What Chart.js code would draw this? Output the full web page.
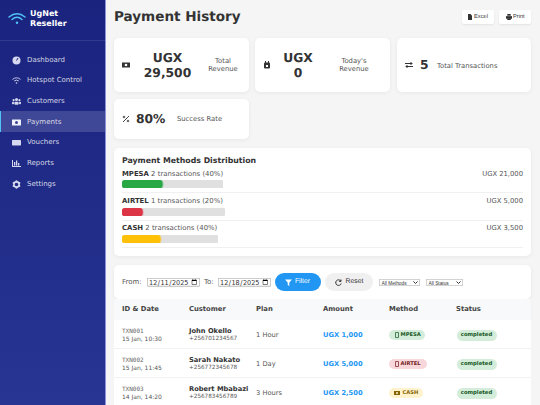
<!DOCTYPE html>
<html>
<head>
<meta charset="utf-8">
<title>Payment History</title>
<script src="https://cdn.jsdelivr.net/npm/chart.js@4"></script>
<style>
* { box-sizing: border-box; margin: 0; padding: 0; }
html { background: #f5f5f5; }
html, body { width: 540px; height: 405px; overflow: hidden; }
body { position: relative; background: #f5f5f5; font-family: "DejaVu Sans", sans-serif; color: #333; text-rendering: geometricPrecision; filter: blur(.3px); }
.abs { position: absolute; white-space: nowrap; }
#sidebar { left: 0; top: 0; width: 105px; height: 405px; background: linear-gradient(180deg, #1a237e, #283593); color: #fff; }
#edge { left: 105px; top: 0; width: 1px; height: 405px; background: #8c94d8; }
.brand { left: 30px; font-size: 8px; font-weight: 700; color: #fff; line-height: 9px; }
#brandline { left: 0; top: 40px; width: 105px; height: 1px; background: rgba(255,255,255,.1); }
.nav { left: 27px; font-size: 7px; color: rgba(255,255,255,.8); line-height: 9px; }
.navicon { left: 12px; }
#active { left: 0; top: 111px; width: 105px; height: 21px; background: rgba(255,255,255,.15); border-left: 1.5px solid #4fc3f7; }
h1 { left: 114px; top: 7px; font-size: 13.55px; font-weight: 700; line-height: 20px; }
.topbtn { top: 10px; height: 13.5px; background: #fff; border-radius: 2px; box-shadow: 0 1px 2px rgba(0,0,0,.08); font: 5.7px/15.5px "Liberation Sans", sans-serif; color: #333; }
.card { background: #fff; border-radius: 5px; box-shadow: 0 1px 4px rgba(0,0,0,.06); }
.big { font-size: 12.3px; font-weight: 700; line-height: 15px; text-align: center; color: #333; }
.lab { font-size: 6.8px; line-height: 8.2px; text-align: center; color: #555; }
.icon { width: 8px; height: 8px; }
#dist-title { left: 122px; top: 155.2px; font-size: 7.8px; font-weight: 700; line-height: 11px; }
.mname { left: 122px; font-size: 6.9px; line-height: 9px; color: #555; }
.mname b { color: #333; }
.mamt { right: 17px; font-size: 6.8px; line-height: 9px; color: #555; }
.rule { left: 122px; width: 401px; height: 1px; background: #f0f0f0; }
canvas { display: block; }
.bar { left: 122px; }
.flabel { font-size: 7px; line-height: 9px; color: #555; top: 277.5px; }
/* native controls are laid out at 2x and scaled down, they clip at this size otherwise */
input[type=date] { font: 13px "DejaVu Sans", sans-serif; width: 106px; height: 17px; top: 278px; border: 1.5px solid #777; padding: 0 2px; border-radius: 2px; background: #fff; color: #333; transform: scale(.5); transform-origin: 0 0; }
select { top: 279px; height: 14px; font: 9.6px "Liberation Sans", sans-serif; border: 1.5px solid #888; border-radius: 2px; background: #fff; color: #333; transform: scale(.5); transform-origin: 0 0; }
.pill { top: 273px; height: 18px; border-radius: 9px; font: 6.8px/18px "Liberation Sans", sans-serif; text-align: center; }
#thead { left: 114px; top: 299px; width: 417px; height: 21px; background: #f8f9fa; box-shadow: 0 1px 1px rgba(0,0,0,.05); }
#tbody { left: 114px; top: 320px; width: 417px; height: 85px; background: #fff; }
.th { top: 305.2px; font-size: 6.8px; font-weight: 700; line-height: 9px; color: #444; }
.rowline { left: 114px; width: 417px; height: 1px; background: #f2f2f2; }
.txn { left: 122px; font: 6px/7px "DejaVu Sans Mono", monospace; color: #666; }
.dt { left: 122px; font-size: 6px; line-height: 7px; color: #555; }
.cname { left: 189px; font-size: 6.7px; font-weight: 700; line-height: 9px; color: #333; }
.phone { left: 189px; font-size: 5.7px; line-height: 7px; color: #555; }
.plan { left: 256px; font-size: 6.7px; line-height: 9px; color: #555; }
.amt { left: 323px; font-size: 6.7px; font-weight: 700; line-height: 9px; color: #2196f3; }
.badge { left: 389px; height: 10.7px; border-radius: 6px; font-size: 5.2px; font-weight: 700; line-height: 10.7px; }
.status { left: 456.5px; width: 40px; height: 11px; border-radius: 6px; background: #d4edda; color: #155724; font-size: 5.3px; font-weight: 700; line-height: 11px; text-align: center; }
</style>
</head>
<body>
<div class="abs" id="sidebar"></div>
<div class="abs" id="edge"></div>
<svg class="abs" style="left:8px;top:12px" width="18" height="13" viewBox="0 0 18 13" fill="none" stroke="#4fc3f7" stroke-width="1.5" stroke-linecap="round">
  <path d="M1 5 Q9 -1.5 17 5"/><path d="M4 7.5 Q9 3 14 7.5"/><circle cx="9" cy="10.8" r="1.2" fill="#4fc3f7" stroke="none"/>
</svg>
<div class="abs brand" style="top:9.2px">UgNet</div>
<div class="abs brand" style="top:18.8px">Reseller</div>
<div class="abs" id="brandline"></div>
<div class="abs" id="active"></div>
<div id="nav"></div>

<h1 class="abs">Payment History</h1>
<div class="abs topbtn" style="left:461.5px;width:32.5px;padding-left:12.5px">Excel</div>
<div class="abs topbtn" style="left:499px;width:32px;padding-left:14px">Print</div>
<svg class="abs" style="left:468px;top:13.5px" width="4" height="6" viewBox="0 0 4 6"><path d="M0 0H2.5L4 1.5V6H0Z" fill="#333"/></svg>
<svg class="abs" style="left:505.5px;top:13.5px" width="6" height="6" viewBox="0 0 7 7" fill="#333"><rect x="1.5" y="0" width="4" height="2"/><rect x="0" y="2.5" width="7" height="3"/><rect x="1.5" y="5" width="4" height="2"/></svg>

<div class="abs card" style="left:114px;top:38px;width:135px;height:54px"></div>
<div class="abs card" style="left:255px;top:38px;width:135px;height:54px"></div>
<div class="abs card" style="left:397px;top:38px;width:134px;height:54px"></div>
<div class="abs card" style="left:114px;top:99px;width:135px;height:40px"></div>
<div id="stats"></div>
<svg class="abs icon" style="left:122px;top:61px" viewBox="0 0 8 8"><rect x="0" y="1.5" width="8" height="5" fill="#333"/><circle cx="4" cy="4" r="1.3" fill="#fff"/></svg>
<svg class="abs icon" style="left:263px;top:61px" viewBox="0 0 8 8"><rect x="1" y="1.5" width="6" height="6" rx="1" fill="#333"/><rect x="2" y="0" width="1" height="2" fill="#333"/><rect x="5" y="0" width="1" height="2" fill="#333"/><rect x="3" y="4" width="2" height="2" fill="#fff"/></svg>
<svg class="abs icon" style="left:405px;top:61px" viewBox="0 0 8 8" fill="none" stroke="#333" stroke-width="1"><path d="M0 2.5H7M5.5 1L7 2.5L5.5 4M8 5.5H1M2.5 4L1 5.5L2.5 7"/></svg>
<svg class="abs icon" style="left:122px;top:115px" viewBox="0 0 8 8" fill="none" stroke="#333" stroke-width=".9"><path d="M1 7L7 1"/><circle cx="2" cy="2" r=".8"/><circle cx="6" cy="6" r=".8"/></svg>

<div class="abs card" style="left:114px;top:148px;width:417px;height:108px"></div>
<div class="abs" id="dist-title">Payment Methods Distribution</div>
<div id="methods"></div>

<div class="abs card" style="left:114px;top:265px;width:417px;height:34px"></div>
<div class="abs flabel" style="left:122px">From:</div>
<input class="abs" type="date" value="2025-12-11" style="left:147px">
<div class="abs flabel" style="left:204px">To:</div>
<input class="abs" type="date" value="2025-12-18" style="left:218px">
<div class="abs pill" style="left:275px;width:46px;background:#2196f3;color:#fff;padding-left:9px">Filter</div>
<svg class="abs" style="left:285px;top:278.5px" width="7" height="7" viewBox="0 0 7 7"><path d="M0 .5H7L4.3 3.6V7L2.7 6V3.6Z" fill="#fff"/></svg>
<div class="abs pill" style="left:325px;width:48px;background:#f0f0f0;color:#333;padding-left:11px">Reset</div>
<svg class="abs" style="left:335px;top:278.5px" width="7" height="7" viewBox="0 0 7 7" fill="none" stroke="#333" stroke-width="1"><path d="M5.8 2A2.8 2.8 0 1 0 6.2 4.5"/><path d="M6 .5V2.4H4.1"/></svg>
<select class="abs" style="left:379px;width:82px"><option>All Methods</option></select>
<select class="abs" style="left:426px;width:74px"><option>All Status</option></select>

<div class="abs" id="thead"></div>
<div class="abs" id="tbody"></div>
<div id="table"></div>

<script>
// Chart data
const methodNames = ['MPESA', 'AIRTEL', 'CASH'];
const methodCounts = [2, 1, 2];
const methodShares = [40, 20, 40];
const methodTotals = ['UGX 21,000', 'UGX 5,000', 'UGX 3,500'];
const methodColors = ['#28a745', '#dc3545', '#ffc107'];

// Page text
const navLabels = ['Dashboard', 'Hotspot Control', 'Customers', 'Payments', 'Vouchers', 'Reports', 'Settings'];
const tableHeaders = ['ID & Date', 'Customer', 'Plan', 'Amount', 'Method', 'Status'];
const txnIds = ['TXN001', 'TXN002', 'TXN003'];
const txnDates = ['15 Jan, 10:30', '15 Jan, 11:45', '14 Jan, 14:20'];
const txnNames = ['John Okello', 'Sarah Nakato', 'Robert Mbabazi'];
const txnPhones = ['+256701234567', '+256772345678', '+256783456789'];
const txnPlans = ['1 Hour', '1 Day', '3 Hours'];
const txnAmounts = ['UGX 1,000', 'UGX 5,000', 'UGX 2,500'];
const txnMethods = ['MPESA', 'AIRTEL', 'CASH'];

function addDiv(parent, className, text, style) {
    const el = document.createElement('div');
    el.className = 'abs ' + className;
    el.textContent = text;
    el.style.cssText = style;
    parent.appendChild(el);
    return el;
}

function addSvg(parent, className, style, w, h, body) {
    const holder = addDiv(parent, className, '', style);
    holder.innerHTML = `<svg width="${w}" height="${h}" viewBox="0 0 ${w} ${h}" style="display:block">${body}</svg>`;
}

// Sidebar
const navIcons = [
    '<circle cx="4.5" cy="4.5" r="4" fill="#d5d8ef"/><path d="M4.5 4.5L6 2" stroke="#1a237e" stroke-width="1"/>',
    '<g fill="none" stroke="#d5d8ef" stroke-width=".9"><path d="M.5 3.4Q4.5 .2 8.5 3.4"/><path d="M2.2 5Q4.5 3.2 6.8 5"/></g><circle cx="4.5" cy="7" r=".8" fill="#d5d8ef"/>',
    '<g fill="#d5d8ef"><circle cx="4.5" cy="2.6" r="1.5"/><circle cx="1.6" cy="3.2" r="1.1"/><circle cx="7.4" cy="3.2" r="1.1"/><rect x="2.4" y="4.8" width="4.2" height="3" rx="1"/><rect x="0" y="4.8" width="2" height="2.4" rx=".7"/><rect x="7" y="4.8" width="2" height="2.4" rx=".7"/></g>',
    '<rect x="0" y="1.5" width="9" height="6" rx=".5" fill="#f0f1fa"/><circle cx="4.5" cy="4.5" r="1.5" fill="#3a4494"/>',
    '<rect x="0" y="2" width="9" height="5.5" rx=".7" fill="#d5d8ef"/>',
    '<g fill="#d5d8ef"><rect x="0" y="7" width="9" height="1"/><rect x="0" y="1" width="1" height="7"/><rect x="2" y="3" width="1.3" height="3.6"/><rect x="4" y="1.5" width="1.3" height="5.1"/><rect x="6" y="4" width="1.3" height="2.6"/></g>',
    '<circle cx="4.5" cy="4.5" r="2.6" fill="none" stroke="#d5d8ef" stroke-width="1.6"/><circle cx="4.5" cy="1.2" r="1" fill="#d5d8ef"/><circle cx="4.5" cy="7.8" r="1" fill="#d5d8ef"/><circle cx="1.6" cy="2.9" r="1" fill="#d5d8ef"/><circle cx="7.4" cy="2.9" r="1" fill="#d5d8ef"/><circle cx="1.6" cy="6.1" r="1" fill="#d5d8ef"/><circle cx="7.4" cy="6.1" r="1" fill="#d5d8ef"/>'
];
const nav = document.getElementById('nav');
navLabels.forEach((label, i) => {
    const top = 55.5 + i * 20.67;
    addDiv(nav, 'nav', label, `top:${top}px`);
    addSvg(nav, 'navicon', `top:${top}px`, 9, 9, navIcons[i]);
});

// Stat cards
const stats = document.getElementById('stats');
addDiv(stats, 'big', 'UGX', 'left:142.5px;top:51px;width:50px');
addDiv(stats, 'big', '29,500', 'left:142.5px;top:65.5px;width:50px');
addDiv(stats, 'lab', 'Total', 'left:208px;top:57px;width:30px');
addDiv(stats, 'lab', 'Revenue', 'left:208px;top:65px;width:30px');
addDiv(stats, 'big', 'UGX', 'left:278px;top:51px;width:40px');
addDiv(stats, 'big', '0', 'left:278px;top:65.5px;width:40px');
addDiv(stats, 'lab', "Today's", 'left:339px;top:57px;width:30px');
addDiv(stats, 'lab', 'Revenue', 'left:339px;top:65px;width:30px');
addDiv(stats, 'big', '5', 'left:420px;top:58px');
addDiv(stats, 'lab', 'Total Transactions', 'left:437px;top:61.5px');
addDiv(stats, 'big', '80%', 'left:136px;top:111.5px');
addDiv(stats, 'lab', 'Success Rate', 'left:177px;top:115px');

// Payment method bars
const methodsEl = document.getElementById('methods');
const rowTops = [169.5, 197, 224.2];
const trackWidths = [100.5, 102.5, 95.5];
methodNames.forEach((name, i) => {
    const top = rowTops[i];
    const label = addDiv(methodsEl, 'mname', '', `top:${top}px`);
    label.innerHTML = `<b>${name}</b> ${methodCounts[i]} transactions (${methodShares[i]}%)`;
    addDiv(methodsEl, 'mamt', methodTotals[i], `top:${top}px`);
    addDiv(methodsEl, 'rule', '', `top:${top + 22.6}px`);
    const holder = addDiv(methodsEl, 'bar', '', `top:${top + 10.5}px;width:${trackWidths[i]}px;height:8.3px`);
    const canvas = document.createElement('canvas');
    holder.appendChild(canvas);
    new Chart(canvas, {
        type: 'bar',
        data: {
            labels: [name],
            datasets: [
                { data: [methodShares[i]], backgroundColor: methodColors[i], borderRadius: 4, borderSkipped: false, barPercentage: 1, categoryPercentage: 1, grouped: false, order: 1 },
                { data: [100], backgroundColor: '#e0e0e0', borderRadius: 4, borderSkipped: false, barPercentage: 1, categoryPercentage: 1, grouped: false, order: 2 }
            ]
        },
        options: {
            indexAxis: 'y',
            responsive: true,
            maintainAspectRatio: false,
            animation: false,
            layout: { padding: 0 },
            plugins: { legend: { display: false }, tooltip: { enabled: false } },
            scales: {
                x: { display: false, min: 0, max: 100 },
                y: { display: false }
            }
        }
    });
});

// Transactions table
const table = document.getElementById('table');
const colLefts = [122, 189, 256, 323, 389, 456];
tableHeaders.forEach((h, i) => addDiv(table, 'th', h, `left:${colLefts[i]}px`));
const badgeStyles = {
    MPESA: 'background:#d4edda;color:#155724;width:36px;padding-left:11.5px',
    AIRTEL: 'background:#f8d7da;color:#721c24;width:37.5px;padding-left:11.5px',
    CASH: 'background:#fff3cd;color:#856404;width:33.5px;padding-left:13.5px'
};
const phoneGlyph = (c) => `<rect x=".4" y=".4" width="3.2" height="5.2" rx=".6" fill="none" stroke="${c}" stroke-width=".8"/>`;
const badgeGlyphs = {
    MPESA: [4, 6, phoneGlyph('#155724'), 394.5],
    AIRTEL: [4, 6, phoneGlyph('#721c24'), 394.5],
    CASH: [6, 6, '<rect y="1" width="6" height="4" fill="#856404"/><circle cx="3" cy="3" r="1" fill="#fff3cd"/>', 393.5]
};
txnIds.forEach((id, i) => {
    const y = 320 + i * 29;
    const method = txnMethods[i];
    const glyph = badgeGlyphs[method];
    addDiv(table, 'rowline', '', `top:${y + 28}px`);
    addDiv(table, 'txn', id, `top:${y + 7.5}px`);
    addDiv(table, 'dt', txnDates[i], `top:${y + 15.8}px`);
    addDiv(table, 'cname', txnNames[i], `top:${y + 6.8}px`);
    addDiv(table, 'phone', txnPhones[i], `top:${y + 16.2}px`);
    addDiv(table, 'plan', txnPlans[i], `top:${y + 11.2}px`);
    addDiv(table, 'amt', txnAmounts[i], `top:${y + 11.2}px`);
    addDiv(table, 'badge', method, `top:${y + 9.7}px;${badgeStyles[method]}`);
    addSvg(table, '', `left:${glyph[3]}px;top:${y + 12}px`, glyph[0], glyph[1], glyph[2]);
    addDiv(table, 'status', 'completed', `top:${y + 10.3}px`);
});
</script>
</body>
</html>
